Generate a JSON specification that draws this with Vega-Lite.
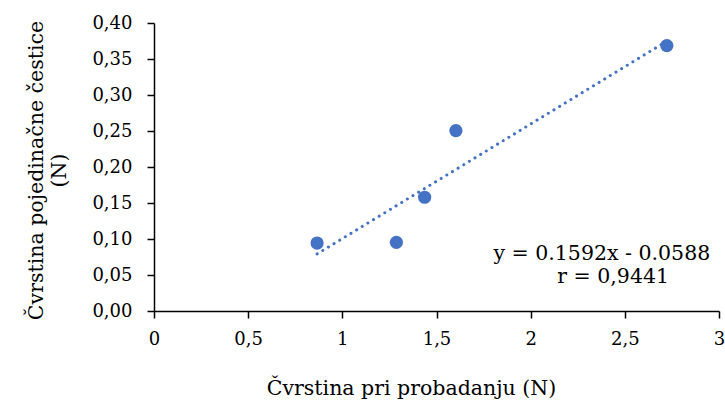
{
  "$schema": "https://vega.github.io/schema/vega-lite/v6.json",
  "width": 565,
  "height": 288,
  "autosize": {"type": "none"},
  "padding": {"left": 154, "top": 23, "right": 6, "bottom": 96},
  "background": "white",
  "config": {
    "view": {"stroke": null},
    "font": "DejaVu Serif",
    "axis": {
      "grid": false,
      "domainColor": "#000000",
      "domainWidth": 1.5,
      "tickColor": "#000000",
      "tickWidth": 1.5,
      "tickSize": 7,
      "labelFont": "DejaVu Serif",
      "labelFontSize": 18,
      "labelColor": "#000000",
      "labelOverlap": false,
      "labelFlush": false,
      "titleFont": "DejaVu Serif",
      "titleFontSize": 20.5,
      "titleFontWeight": "normal",
      "titleColor": "#000000"
    }
  },
  "datasets": {
    "points": [
      {"x": 0.866, "y": 0.0944},
      {"x": 1.287, "y": 0.0954},
      {"x": 1.437, "y": 0.158},
      {"x": 1.603, "y": 0.2506},
      {"x": 2.723, "y": 0.3686}
    ],
    "notes": [
      {"label": "y = 0.1592x - 0.0588", "nx": 2.378, "ny": 0.0794},
      {"label": "r = 0,9441", "nx": 2.438, "ny": 0.0475}
    ]
  },
  "encoding": {
    "x": {
      "field": "x",
      "type": "quantitative",
      "scale": {"domain": [0, 3], "nice": false, "zero": true},
      "axis": {
        "values": [0, 0.5, 1, 1.5, 2, 2.5, 3],
        "labelExpr": "replace(format(datum.value, '~g'), '.', ',')",
        "labelPadding": 12,
        "title": "Čvrstina pri probadanju (N)",
        "titleX": 257,
        "titleY": 83,
        "titleBaseline": "alphabetic",
        "titleAnchor": "middle"
      }
    },
    "y": {
      "field": "y",
      "type": "quantitative",
      "scale": {"domain": [0, 0.4], "nice": false},
      "axis": {
        "values": [0, 0.05, 0.1, 0.15, 0.2, 0.25, 0.3, 0.35, 0.4],
        "labelExpr": "replace(format(datum.value, '.2f'), '.', ',')",
        "labelPadding": 15,
        "labelOverlap": false,
        "title": ["Čvrstina pojedinačne čestice", "(N)"],
        "titleX": -108,
        "titleY": 147,
        "titleAngle": -90,
        "titleBaseline": "bottom",
        "titleAlign": "center",
        "titleLineHeight": 23
      }
    }
  },
  "layer": [
    {
      "data": {"name": "points"},
      "transform": [{"regression": "y", "on": "x", "method": "linear"}],
      "mark": {"type": "line", "color": "#4472C4", "strokeWidth": 3, "strokeDash": [0.1, 6.5], "strokeCap": "round"}
    },
    {
      "data": {"name": "points"},
      "mark": {"type": "circle", "color": "#4472C4", "opacity": 1, "size": 175}
    },
    {
      "data": {"name": "notes"},
      "mark": {"type": "text", "fontSize": 20.5, "fontWeight": "normal", "font": "DejaVu Serif", "color": "#000000", "align": "center", "baseline": "middle"},
      "encoding": {
        "x": {"field": "nx", "type": "quantitative"},
        "y": {"field": "ny", "type": "quantitative"},
        "text": {"field": "label"}
      }
    }
  ]
}
